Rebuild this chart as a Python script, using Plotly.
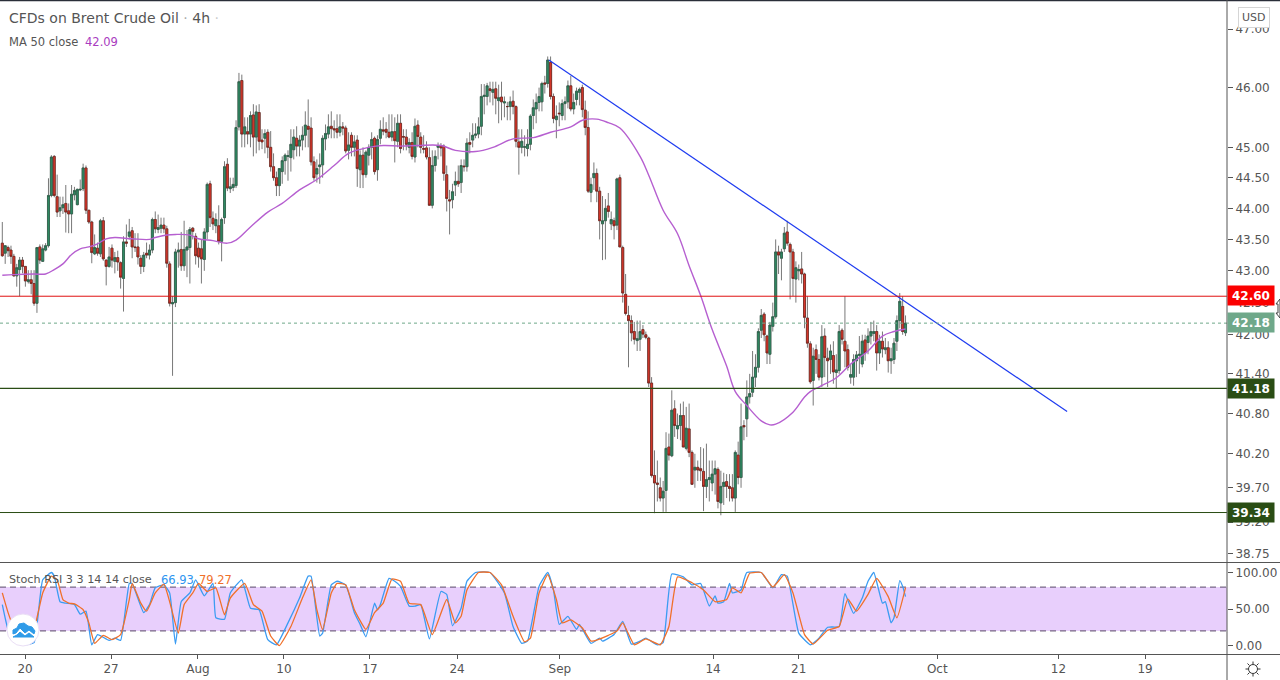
import plotly.graph_objects as go
import math

open_ = [43.44,43.28,43.37,43.33,43.23,42.92,43.02,43.17,43.07,42.83,
42.86,42.80,42.49,43.38,43.15,43.33,43.40,44.21,44.85,44.19,
43.96,44.01,44.08,43.96,43.91,44.22,44.06,44.30,44.32,44.66,
43.97,43.78,43.27,43.36,43.27,43.80,43.17,43.07,43.36,43.15,
43.21,43.13,42.88,43.46,43.55,43.64,43.38,43.38,43.20,43.07,
43.28,43.25,43.33,43.82,43.66,43.68,43.73,43.67,43.11,42.48,
42.50,43.30,43.34,43.08,43.33,43.37,43.68,43.55,43.36,43.35,
43.18,43.62,44.40,43.84,43.72,43.72,43.47,43.85,44.72,44.32,
44.34,44.37,45.34,46.12,45.22,45.26,45.22,45.54,45.17,45.58,
45.12,45.15,45.25,45.00,44.68,44.50,44.37,44.60,44.78,44.85,
44.83,44.96,45.15,45.02,45.12,45.20,45.35,45.32,44.76,44.56,
44.68,44.71,45.14,45.22,45.35,45.31,45.31,45.25,45.34,45.32,
44.95,45.20,45.00,45.12,44.63,44.87,44.55,44.87,45.00,45.15,
44.63,45.15,45.29,45.30,45.25,45.17,45.26,45.10,45.40,45.18,
45.17,45.00,45.08,44.84,45.37,45.17,44.98,44.99,44.83,44.05,
44.70,45.00,45.03,45.02,44.55,44.14,44.14,44.38,44.44,44.42,
44.69,44.68,45.08,45.12,45.20,45.22,45.35,45.85,45.85,45.98,
45.92,45.98,45.78,45.84,45.74,45.68,45.68,45.77,45.68,45.09,
45.00,45.00,44.98,45.05,45.53,45.64,45.75,45.76,46.08,46.07,
46.43,45.85,45.46,45.57,45.53,45.73,45.76,46.03,45.64,45.80,
45.92,46.00,45.62,45.33,44.26,44.50,44.57,44.28,43.75,43.80,
44.04,43.75,43.80,43.73,44.50,43.37,42.63,42.30,42.22,42.05,
41.91,41.93,42.08,42.00,41.95,41.26,39.88,39.77,39.70,39.55,
39.66,40.30,40.17,40.87,40.57,40.62,40.77,40.28,40.57,40.22,
39.96,40.00,39.98,39.94,39.72,39.82,39.77,39.90,39.97,39.48,
39.72,39.79,39.72,39.70,39.55,40.18,39.85,40.62,40.72,41.05,
41.12,41.35,41.50,42.07,42.32,41.98,41.70,42.13,42.28,43.30,
43.20,43.35,43.62,43.42,43.30,42.87,43.00,43.03,42.95,42.26,
41.86,41.30,41.77,41.62,41.35,41.98,41.64,41.62,41.68,41.42,
41.45,42.07,41.90,41.77,41.35,41.35,41.60,41.68,41.55,41.92,
41.88,41.98,42.02,42.05,41.72,41.90,41.77,41.80,41.60,41.62,
41.90,42.22,42.44,42.03]

high = [43.78,43.40,43.40,43.40,43.27,43.11,43.22,43.22,43.07,43.01,
43.01,43.01,43.37,43.42,43.42,43.44,44.49,44.87,44.87,44.55,
44.19,44.19,44.38,44.08,44.38,44.35,44.32,44.47,44.73,44.70,
43.97,43.80,43.58,43.45,43.83,43.86,43.18,43.38,43.42,43.30,
43.32,43.15,43.55,43.74,43.83,43.70,43.60,43.60,43.25,43.30,
43.45,43.42,43.85,43.95,43.90,43.85,43.85,43.72,43.15,42.60,
43.35,43.45,43.62,43.80,43.65,43.70,43.70,43.60,43.45,43.50,
43.68,44.42,44.45,43.95,43.92,44.05,43.85,44.77,44.82,44.50,
44.50,45.45,46.25,46.22,45.50,45.50,45.60,45.72,45.70,45.72,
45.30,45.30,45.30,45.27,44.90,44.60,44.60,44.85,44.90,44.95,
45.30,45.30,45.35,45.20,45.35,45.60,45.80,45.50,44.85,44.80,
44.90,45.20,45.38,45.55,45.60,45.45,45.55,45.55,45.42,45.36,
45.25,45.25,45.20,45.20,44.95,45.00,44.95,45.05,45.25,45.18,
45.20,45.45,45.50,45.42,45.55,45.55,45.50,45.55,45.55,45.30,
45.30,45.15,45.25,45.48,45.45,45.25,45.20,45.10,45.00,44.95,
44.95,45.08,45.07,45.05,44.70,44.30,44.40,44.60,44.70,44.80,
44.80,45.15,45.25,45.40,45.40,45.50,46.06,46.06,46.08,46.10,
46.10,46.10,46.05,46.10,45.85,45.76,45.85,45.95,45.70,45.30,
45.30,45.20,45.30,45.55,45.80,45.90,46.00,46.10,46.20,46.53,
46.53,45.90,45.70,45.75,45.80,45.85,46.12,46.20,45.90,46.00,
46.00,46.05,45.78,45.60,44.50,44.75,44.65,44.35,44.20,44.15,
44.25,43.95,43.85,44.50,44.55,43.40,42.95,42.45,42.30,42.20,
42.22,42.22,42.15,42.05,41.97,41.35,40.25,40.10,39.85,39.80,
40.52,40.50,41.15,41.00,40.80,40.95,40.98,40.90,40.95,40.25,
40.20,40.10,40.30,40.28,40.35,40.10,40.10,40.10,40.00,39.95,
39.92,39.90,39.90,39.90,40.25,40.38,40.95,40.70,41.30,41.40,
41.75,41.70,42.10,42.40,42.35,42.00,42.20,42.50,43.50,43.40,
43.35,43.70,43.80,43.45,43.35,43.15,43.10,43.30,42.97,42.60,
41.90,41.80,41.85,41.70,42.15,42.10,41.80,41.85,41.90,41.70,
42.15,42.10,42.60,41.85,41.55,41.70,41.75,41.98,42.00,42.00,
42.10,42.20,42.22,42.15,42.00,42.05,41.95,41.90,41.80,41.95,
42.30,42.65,42.60,42.30]

low = [43.22,43.11,43.22,43.11,42.91,42.75,42.60,42.96,42.75,42.80,
42.63,42.45,42.34,43.11,43.14,43.31,43.37,44.18,44.18,43.86,
43.86,43.91,43.61,43.60,43.60,44.13,44.05,44.28,44.28,43.91,
43.75,43.12,43.25,43.24,43.22,43.16,42.77,43.05,43.05,42.96,
43.00,42.72,42.36,43.38,43.50,43.20,43.30,43.10,42.95,42.98,
43.20,43.18,43.28,43.60,43.60,43.60,43.60,43.05,42.44,41.37,
42.43,43.05,43.00,43.00,42.90,42.80,43.50,43.10,43.05,42.80,
43.00,43.50,43.70,43.65,43.60,43.42,43.15,43.75,44.28,44.25,
44.28,44.33,45.28,45.00,45.00,45.05,45.00,44.85,44.90,44.95,
44.97,44.90,44.82,44.60,44.45,44.20,44.20,44.40,44.55,44.45,
44.60,44.80,44.85,44.85,44.95,45.00,45.00,44.70,44.45,44.42,
44.40,44.50,44.95,45.15,45.15,45.15,45.15,45.18,45.20,44.90,
44.80,44.85,44.85,44.35,44.33,44.33,44.50,44.70,44.80,44.55,
44.45,45.05,45.20,45.15,45.15,45.10,44.75,45.00,44.90,44.95,
44.95,44.90,44.80,44.75,45.00,44.90,44.90,44.80,44.05,44.00,
44.60,44.80,44.85,44.45,43.95,43.58,44.00,44.20,44.35,44.25,
44.60,44.60,44.90,45.00,45.15,45.15,45.20,45.55,45.70,45.75,
45.70,45.55,45.40,45.45,45.50,45.45,45.45,45.55,45.00,44.55,
44.90,44.85,44.85,44.95,45.30,45.40,45.60,45.60,45.90,46.00,
45.80,45.40,45.15,45.35,45.45,45.45,45.65,45.60,45.55,45.70,
45.70,45.50,45.20,44.25,44.10,44.30,44.10,43.50,43.17,43.18,
43.85,43.65,43.50,43.65,43.40,42.50,42.30,41.50,41.90,41.85,
41.75,41.75,41.95,41.93,41.20,39.85,39.33,39.50,39.50,39.35,
39.35,40.10,40.15,40.45,40.42,40.40,40.30,40.25,40.15,39.75,
39.70,39.80,39.80,39.36,39.55,39.50,39.65,39.60,39.40,39.30,
39.45,39.55,39.50,39.50,39.35,39.75,39.70,40.40,40.45,40.95,
41.05,41.20,41.42,41.95,41.90,41.55,41.55,42.05,42.25,42.95,
42.85,43.30,43.40,42.55,42.60,42.50,42.85,42.80,42.10,41.80,
41.25,40.92,41.40,41.30,41.20,41.35,41.20,41.40,41.25,41.18,
41.40,41.85,41.50,41.45,41.25,41.22,41.35,41.40,41.50,41.60,
41.70,41.85,41.90,41.45,41.55,41.65,41.70,41.42,41.40,41.55,
41.75,42.10,42.00,41.98]

close = [43.24,43.40,43.32,43.23,42.92,43.05,43.17,43.07,42.84,42.86,
42.80,42.49,43.37,43.17,43.35,43.40,44.21,44.84,44.21,43.94,
44.01,44.06,43.94,43.91,44.23,44.29,44.31,44.31,44.66,43.97,
43.78,43.29,43.37,43.28,43.80,43.19,43.07,43.22,43.17,43.21,
43.14,42.90,43.46,43.44,43.62,43.38,43.37,43.22,43.07,43.25,
43.25,43.33,43.82,43.67,43.69,43.73,43.67,43.12,42.49,42.50,
43.30,43.33,43.08,43.34,43.38,43.66,43.63,43.24,43.22,43.19,
43.62,44.39,43.85,43.75,43.82,43.47,43.82,44.68,44.33,44.35,
44.39,45.33,46.10,45.22,45.34,45.22,45.53,45.17,45.59,45.10,
45.09,45.23,45.00,44.68,44.50,44.37,44.65,44.78,44.87,44.86,
45.05,45.17,45.02,45.12,45.20,45.37,45.30,44.76,44.50,44.65,
44.71,45.15,45.23,45.34,45.31,45.29,45.25,45.34,45.32,44.94,
45.04,45.00,45.09,44.65,44.87,44.55,44.92,45.00,45.13,44.60,
45.13,45.30,45.27,45.25,45.17,45.26,45.11,45.40,44.98,45.17,
45.05,45.08,44.85,45.35,45.18,45.00,44.97,44.84,44.05,44.70,
44.85,45.03,44.99,44.57,44.16,44.12,44.27,44.44,44.40,44.70,
44.68,45.07,45.05,45.20,45.22,45.34,45.85,45.87,46.03,45.95,
45.97,45.82,45.83,45.76,45.76,45.68,45.76,45.68,45.10,45.00,
45.10,45.01,45.05,45.52,45.66,45.75,45.85,46.07,46.06,46.47,
45.85,45.48,45.52,45.56,45.73,45.76,46.03,45.64,45.75,45.94,
45.97,45.63,45.33,44.28,44.39,44.57,44.28,43.80,43.80,44.00,
43.95,43.82,43.72,44.48,43.38,42.65,42.33,42.22,42.03,41.93,
41.94,42.05,42.01,41.96,41.26,39.88,39.77,39.75,39.55,39.65,
40.28,40.18,40.85,40.62,40.62,40.77,40.30,40.58,40.22,39.75,
40.00,39.96,39.95,39.72,39.82,39.85,39.90,39.98,39.50,39.72,
39.78,39.72,39.69,39.55,40.22,39.85,40.60,40.60,41.05,41.10,
41.35,41.50,42.05,42.30,42.00,41.72,42.15,42.28,43.30,43.25,
43.30,43.60,43.44,43.30,42.88,43.05,43.02,42.95,42.27,41.87,
41.28,41.67,41.62,41.35,41.97,41.65,41.60,41.75,41.43,41.46,
42.05,41.93,41.75,41.50,41.39,41.62,41.69,41.70,41.90,41.72,
41.98,42.05,42.05,41.72,41.90,41.78,41.80,41.60,41.63,41.87,
42.22,42.52,42.05,42.18]

ma_bar = [0,4,11,15,18,21,24,27,30,33,36,39,45,51,53,57,60,65,68,73,78,81,86,92,97,103,109,115,120,127,132,138,144,152,157,164,170,177,184,190,197,201,206,210,214,221,224,229,234,238,242,246,251,254,258,263,266,268,274,278,280,283,289,294,300,305,309,313]
ma_val = [42.93,42.94,42.95,42.95,43.02,43.11,43.26,43.35,43.38,43.43,43.51,43.53,43.51,43.50,43.53,43.57,43.58,43.57,43.51,43.48,43.44,43.49,43.70,43.94,44.08,44.30,44.47,44.70,44.90,45.00,45.03,45.02,45.03,45.03,44.95,44.93,45.00,45.14,45.16,45.25,45.34,45.45,45.47,45.41,45.32,44.85,44.54,43.97,43.59,43.08,42.61,42.08,41.52,41.13,40.92,40.69,40.63,40.64,40.82,41.05,41.13,41.20,41.34,41.55,41.75,41.98,42.05,42.09]

k_bar = [0,2,5,8,11,14,17,18,20,22,25,27,29,31,33,37,39,41,44,45,49,51,53,56,58,60,62,65,67,70,73,74,77,79,83,86,89,92,95,99,103,106,107,110,111,114,116,119,122,124,126,129,130,131,134,136,138,141,143,145,148,152,154,156,159,161,164,169,174,177,180,182,186,189,191,193,196,199,200,204,207,208,212,215,218,221,223,227,229,232,236,239,242,245,247,248,250,252,253,256,257,258,263,267,270,272,276,280,283,286,290,292,295,298,300,302,305,306,308,309,311,312,313]
k_val = [56,22,4,1,4,90,100,95,60,58,56,43,47,1,15,7,10,7,85,85,45,56,79,83,72,2,60,72,90,68,85,38,36,72,90,51,49,8,1,31,65,95,95,13,17,83,88,83,45,29,12,58,49,56,92,88,81,54,54,56,9,74,70,27,51,88,100,100,72,26,3,6,81,100,76,29,40,22,29,3,10,6,15,33,2,6,10,1,4,98,94,83,85,54,68,58,60,85,72,76,90,100,100,79,97,95,17,1,10,25,26,71,44,65,88,100,58,60,31,38,89,81,66.93]

d_bar = [0,2,5,8,11,14,17,19,21,23,25,28,30,32,35,38,41,44,45,48,50,53,56,58,61,63,66,68,71,74,77,79,84,87,90,93,96,100,104,107,109,111,114,116,119,122,126,129,132,135,138,141,145,149,154,157,159,161,165,169,173,177,181,183,186,189,192,194,197,201,204,207,210,213,215,219,223,228,231,234,239,243,247,251,253,256,259,263,267,271,274,278,281,286,290,293,296,300,303,307,310,313]
d_val = [72,45,15,4,22,72,95,90,63,58,57,49,31,3,14,8,15,63,85,58,47,72,84,60,17,56,72,85,74,79,42,65,85,56,47,13,0,26,65,90,49,22,72,85,83,49,22,45,58,91,88,58,56,15,63,31,40,76,100,100,83,40,5,10,72,97,63,31,35,24,6,9,14,20,31,1,9,1,26,94,86,76,60,63,79,72,99,100,80,97,72,15,2,21,26,64,47,70,92,67,38,79.27]

date_ticks = [7.9,37.7,67.8,97.6,127.4,157.6,193.2,246.3,276,324,366,396]
date_labels = ["20","27","Aug","10","17","24","Sep","14","21","Oct","12","19"]
price_ticks = [47,46,45,44.5,44,43.5,43,42.5,42,41.4,40.8,40.2,39.7,39.2,38.75]
stoch_ticks = [100,50,0]
levels = [42.60,41.18,39.34]
last_price = 42.18
trend_bar = [189.4,369]
trend_price = [46.47,40.83]

W, H = 1280, 680
L, R, T, B = 0, 53, 1, 26
PW, PH = W-L-R, H-T-B
def fx(px): return (px-L)/PW
def fy(py): return 1-(py-T)/PH

bars = list(range(len(close)))
body_hi = [max(o,c) for o,c in zip(open_,close)]
body_lo = [min(o,c) for o,c in zip(open_,close)]
RNG = [-0.8, 424.4]
UP, DN = "#2f8a63", "#d8382c"

fig = go.Figure()
fig.add_trace(go.Candlestick(x=bars, open=open_, high=high, low=low, close=close, xaxis="x", yaxis="y",
    increasing=dict(line=dict(color="#787878", width=1), fillcolor="#787878"),
    decreasing=dict(line=dict(color="#787878", width=1), fillcolor="#787878"), whiskerwidth=0, hoverinfo="skip"))
fig.add_trace(go.Candlestick(x=bars, open=open_, high=body_hi, low=body_lo, close=close, xaxis="x", yaxis="y",
    increasing=dict(line=dict(color="#2a5a45", width=0.6), fillcolor=UP),
    decreasing=dict(line=dict(color="#6b1c14", width=0.6), fillcolor=DN), whiskerwidth=0, hoverinfo="skip"))
fig.add_trace(go.Scatter(x=ma_bar, y=ma_val, mode="lines", line=dict(color="#b65fd0", width=1.4, shape="spline"), xaxis="x", yaxis="y"))
fig.add_trace(go.Scatter(x=trend_bar, y=trend_price, mode="lines", line=dict(color="#1f3cf0", width=1.2), xaxis="x", yaxis="y"))
for lv, col, w in zip(levels, ["#e01010","#2a4d14","#2a4d14"], [1,1.2,1]):
    fig.add_trace(go.Scatter(x=RNG, y=[lv,lv], mode="lines", line=dict(color=col, width=w), xaxis="x", yaxis="y"))
fig.add_trace(go.Scatter(x=RNG, y=[last_price,last_price], mode="lines", line=dict(color="#6fa88a", width=1, dash="dot"), xaxis="x", yaxis="y"))

fig.add_trace(go.Scatter(x=RNG+RNG[::-1], y=[80,80,20,20], mode="lines", fill="toself", fillcolor="#e8cffc", line=dict(width=0), xaxis="x2", yaxis="y2"))
for lv in (80,20):
    fig.add_trace(go.Scatter(x=RNG, y=[lv,lv], mode="lines", line=dict(color="#5a4a68", width=1, dash="6px,4px"), xaxis="x2", yaxis="y2"))
fig.add_trace(go.Scatter(x=k_bar, y=k_val, mode="lines", line=dict(color="#3b9cf2", width=1.3, shape="spline", smoothing=0.4), xaxis="x2", yaxis="y2"))
fig.add_trace(go.Scatter(x=d_bar, y=d_val, mode="lines", line=dict(color="#f0702a", width=1.3, shape="spline", smoothing=0.4), xaxis="x2", yaxis="y2"))

shapes = []
def line(x0,y0,x1,y1,c,w=1):
    shapes.append(dict(type="line", xref="paper", yref="paper", x0=fx(x0), y0=fy(y0), x1=fx(x1), y1=fy(y1), line=dict(color=c,width=w), layer="above"))
line(0,0.5,1280,0.5,"#2a2e39",1.5)
line(0,562.5,1280,562.5,"#555555",1)
line(0,654.5,1280,654.5,"#555555",1)
line(1227,0,1227,680,"#555555",1)
shapes.append(dict(type="circle", xref="paper", yref="paper", x0=fx(7), x1=fx(39), y0=fy(646), y1=fy(614), fillcolor="white", line=dict(color="#eadff5",width=1), layer="above"))
def path(pts):
    return " ".join(("M" if i==0 else "L")+f"{fx(x):.5f},{fy(y):.5f}" for i,(x,y) in enumerate(pts))+" Z"
shapes.append(dict(type="path", xref="paper", yref="paper", path=path([(13,634),(13,630),(17,628),(19,624),(24,623),(28,626),(32,627),(35,631),(34,634),(29,630),(25,633),(20,628),(16,633)]), fillcolor="#2f9be8", line=dict(color="#2f9be8",width=1), layer="above"))
shapes.append(dict(type="path", xref="paper", yref="paper", path=path([(13,637),(17,635),(20,632),(25,636),(29,633),(34,637)]), fillcolor="#2f9be8", line=dict(color="#2f9be8",width=1), layer="above"))
shapes.append(dict(type="circle", xref="paper", yref="paper", x0=fx(1248.5), x1=fx(1257.5), y0=fy(673.5), y1=fy(664.5), line=dict(color="#333333",width=1), layer="above"))
for x0,y0,x1,y1 in [(1253,661.5,1253,664),(1253,674,1253,676.5),(1245.5,669,1248,669),(1258,669,1260.5,669),(1247.5,663.5,1249.5,665.5),(1256.5,672.5,1258.5,674.5),(1258.5,663.5,1256.5,665.5),(1249.5,672.5,1247.5,674.5)]:
    line(x0,y0,x1,y1,"#333333",1)
shapes.append(dict(type="path", xref="paper", yref="paper", path=path([(1280,299),(1276,304),(1278,304),(1278,313),(1276,313),(1280,318)]), fillcolor="white", line=dict(color="#444444",width=1), layer="above"))

F = "DejaVu Sans"
ann = []
def text(x,y,t,size=13,color="#555555",**kw):
    ann.append(dict(xref="paper", yref="paper", x=fx(x-2), y=fy(y), text=t, showarrow=False, xanchor="left", yanchor="middle", font=dict(family=F,size=size,color=color), **kw))
text(9,18,'CFDs on Brent Crude Oil <span style="color:#aaaaaa">·</span> 4h <span style="color:#cccccc">·</span>',14)
text(9,41.5,'MA 50 close',11.5)
text(85,41.5,'42.09',11.5,"#a93cc0")
text(9,579.5,'Stoch RSI 3 3 14 14 close',11.2)
text(161,579.5,'66.93',11.5,"#2f95f0")
text(199,579.5,'79.27',11.5,"#f0702a")
for y,t,bg in [(295.5,"42.60","#fb0000"),(322.5,"42.18","#6fa88a"),(388.5,"41.18","#2a4d14"),(512.5,"39.34","#2a4d14")]:
    ann.append(dict(xref="paper", yref="paper", x=fx(1227), y=fy(y), text=f"<b>{t}</b>", showarrow=False, xanchor="left", yanchor="middle",
        bgcolor=bg, width=46, height=19, borderpad=0, align="center", font=dict(family=F,size=12,color="white")))
ann.append(dict(xref="paper", yref="paper", x=fx(1253.5), y=fy(17), text="USD", showarrow=False, xanchor="center", yanchor="middle",
    bgcolor="white", bordercolor="#d5d5d5", borderwidth=1, borderpad=3, font=dict(family=F,size=11,color="#555555")))

lo, hi = 38.63, 47.49
fig.update_layout(width=W, height=H, margin=dict(l=L,r=R,t=T,b=B), paper_bgcolor="white", plot_bgcolor="white", showlegend=False,
    boxmode="overlay", boxgap=0.0,
    shapes=shapes, annotations=ann, font=dict(family=F,size=12,color="#555555"),
    xaxis=dict(domain=[0,1], range=RNG, anchor="y", showticklabels=False, showgrid=False, zeroline=False, rangeslider=dict(visible=False), ticks=""),
    yaxis=dict(domain=[92/PH,1], type="log", range=[math.log10(lo),math.log10(hi)], side="right", anchor="x", tickvals=price_ticks,
        ticktext=[f"{v:.2f}" for v in price_ticks], ticks="outside", ticklen=5, tickcolor="#555555", showgrid=False, zeroline=False),
    xaxis2=dict(domain=[0,1], range=RNG, anchor="y2", matches="x", tickvals=date_ticks, ticktext=date_labels, ticks="outside", ticklen=4, tickcolor="#555555", showgrid=False, zeroline=False),
    yaxis2=dict(domain=[0,91/PH], range=[-11.6,113], side="right", anchor="x2", tickvals=stoch_ticks, ticktext=[f"{v:.2f}" for v in stoch_ticks], ticks="outside", ticklen=5, tickcolor="#555555", showgrid=False, zeroline=False),
)
fig.write_html("out.html", config=dict(displayModeBar=False), post_script="document.body.style.margin='0';document.body.style.overflow='hidden';")
